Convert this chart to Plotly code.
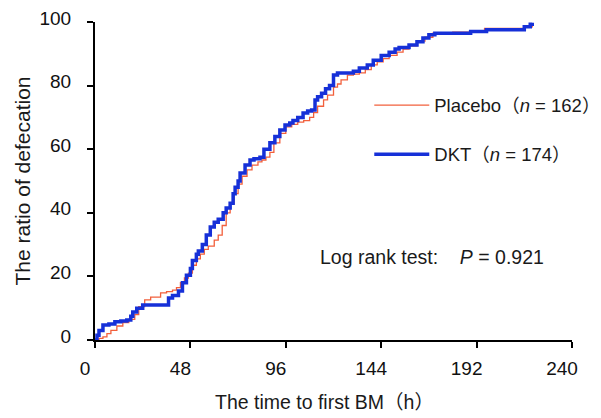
import plotly.graph_objects as go

# Kaplan-Meier style cumulative curves (hours, %)
dkt_t = [0, 1, 2, 4, 7, 10, 13, 16, 18, 19, 21, 24, 28, 32, 35, 37, 39, 42, 44, 46,
         48, 49, 51, 52, 54, 56, 58, 60, 62, 64.5, 66, 68, 69.5, 70.5, 72, 73, 75.5, 78,
         80, 83, 85, 88, 90.5, 93, 95.6, 98, 99.6, 102, 104.7, 107, 109, 110.7, 112, 114,
         116, 118, 120, 122, 127, 130, 133, 137, 140, 144, 148, 151, 153, 158, 162, 165,
         168, 171, 175, 189, 197, 214, 216, 219, 220]
dkt_y = [0, 1.5, 3, 4.7, 5, 5.7, 6, 6.3, 7.5, 8.8, 10, 11, 11, 11, 11, 13.2, 14, 15.4, 18, 20.4,
         22.5, 25, 27, 28, 30, 33, 35.5, 37, 38, 40, 41.5, 43, 46, 48, 50, 52.5, 55, 56.6,
         57, 57.5, 60, 62, 64, 66, 67.6, 68.2, 69, 70, 71.4, 72, 72.3, 75.5, 76.5, 77.6,
         79, 80, 83.3, 84, 84, 84.5, 85.5, 86.5, 88, 89.5, 90.5, 91.5, 92, 92.8, 93.8, 95,
         96, 96.5, 96.5, 97, 97.6, 97.6, 98.5, 99.3, 99.8]

placebo_t = [0, 2, 4, 6, 8, 11, 14, 17, 20, 22, 25, 28, 33, 36, 39, 41, 43, 45, 47, 49,
             51, 53, 55, 57, 60, 62, 64, 66, 68, 70, 72, 74, 76.5, 79, 82, 84, 86, 88, 90,
             93, 96, 99, 102, 105, 108, 110, 112, 115, 117, 120, 122, 123.8, 127, 130, 133,
             136, 139, 142, 145, 148, 152, 155, 158, 162, 166, 170, 180, 189, 196, 216, 220]
placebo_y = [0, 0.5, 1, 2, 3, 4.4, 5.5, 6.5, 8, 10.5, 12.6, 13.5, 14.8, 15.2, 15.7, 16.5,
             18, 19.5, 21, 23.5, 25.5, 27, 28.5, 29.5, 31.4, 33, 36, 40, 43, 46, 49, 51.5,
             53.5, 55, 56, 56.6, 57.5, 59, 62, 65, 67, 67.8, 68.5, 69, 70, 71.5, 73.5, 75.5,
             77, 79.5, 80.5, 81.8, 83.3, 83.6, 84, 85, 86.5, 87.5, 88.5, 89.5, 90.5, 91.5,
             92.5, 94, 95.2, 96.5, 96.8, 96.8, 98, 98.5, 99]

x_ticks = [0, 48, 96, 144, 192, 240]
y_ticks = [0, 20, 40, 60, 80, 100]

FONT = "Liberation Sans, Arial, Noto Sans CJK SC, sans-serif"

fig = go.Figure()
fig.add_trace(go.Scatter(
    x=placebo_t, y=placebo_y, mode="lines", line_shape="hv",
    line=dict(color="#f2603c", width=1.3),
    name="Placebo（<i>n</i> = 162）", legendgroup="a"))
fig.add_trace(go.Scatter(
    x=dkt_t, y=dkt_y, mode="lines", line_shape="hv",
    line=dict(color="#1630d8", width=3.5),
    name="DKT（<i>n</i> = 174）", legendgroup="b"))

fig.add_annotation(
    x=0.467, y=0.262, xref="paper", yref="paper", xanchor="left", yanchor="middle",
    text="Log rank test:    <i>P</i> = 0.921", showarrow=False,
    font=dict(family=FONT, size=19.5, color="#1a1a1a"))

# x-axis title as annotation (sits slightly left of plot centre in the reference)
fig.add_annotation(
    x=0.482, y=-0.195, xref="paper", yref="paper", xanchor="center", yanchor="middle",
    text="The time to first BM（h）", showarrow=False,
    font=dict(family=FONT, size=19.5, color="#1a1a1a"))

axis_common = dict(
    showgrid=False, zeroline=False, showline=True, linecolor="black", linewidth=2,
    ticks="outside", ticklen=6, tickwidth=2, tickcolor="black",
    tickfont=dict(family=FONT, size=19, color="#111"),
)

fig.update_layout(
    width=601, height=418,
    margin=dict(l=95, r=29, t=22, b=78, autoexpand=False),
    plot_bgcolor="white", paper_bgcolor="white",
    font=dict(family=FONT, color="#111"),
    xaxis=dict(range=[0, 240], tickvals=x_ticks, ticktext=[str(v) for v in x_ticks],
               ticklabelstandoff=4, ticklabelshift=-10,
               **axis_common),
    yaxis=dict(range=[0, 100], tickvals=y_ticks, ticktext=[str(v) for v in y_ticks],
               ticklabelstandoff=12, ticklabelshift=-4,
               title=dict(text="The ratio of defecation", standoff=3,
                          font=dict(family=FONT, size=21, color="#1a1a1a")),
               **axis_common),
    legend=dict(x=0.575, y=0.66, xanchor="left", yanchor="middle",
                bgcolor="rgba(0,0,0,0)", tracegroupgap=22, itemwidth=55,
                font=dict(family=FONT, size=18.5, color="#1a1a1a")),
    showlegend=True,
)

fig.write_html("out.html")
